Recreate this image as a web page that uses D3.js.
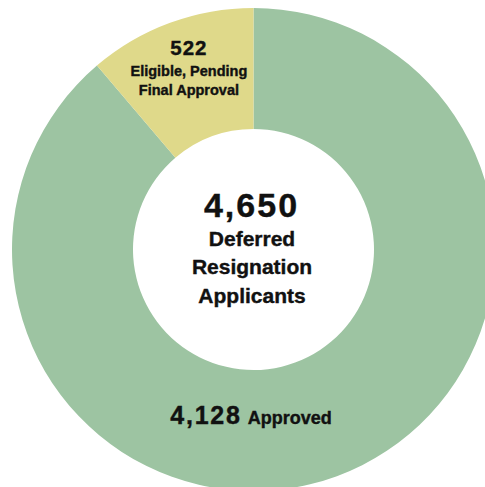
<!doctype html>
<html>
<head>
	<meta charset="UTF-8">
	<title>Deferred Resignation Applicants</title>
	<script src="https://d3js.org/d3.v7.min.js"></script>
	<style>
		body { margin: 0; background: #fff; }
		text { font-family: "Liberation Sans", Arial, sans-serif; font-weight: bold; fill: #111; stroke: #111; stroke-width: 0.4; }
	</style>
</head>
<body>
	<script>
		// data
		var categories = ["Approved", "Eligible, Pending Final Approval"];
		var values = [4128, 522];
		var colors = ["#9dc4a2", "#dfd98a"];
		var centerLines = ["Deferred", "Resignation", "Applicants"];

		var width = 485, height = 487;
		var cx = 253.5, cy = 249.5;
		var outerR = 241.5, innerR = 120.5;

		var svg = d3.select("body")
			.append("svg")
				.attr("width", width)
				.attr("height", height);

		var g = svg.append("g")
			.attr("transform", "translate(" + cx + "," + cy + ")");

		var pie = d3.pie().sort(null).value(function(d) { return d; });
		var arc = d3.arc().innerRadius(innerR).outerRadius(outerR);

		var slices = pie(values);

		g.selectAll("path")
			.data(slices)
			.enter()
			.append("path")
				.attr("d", arc)
				.attr("fill", function(d, i) { return colors[i]; });

		var fmt = d3.format(",");

		// centre label
		var total = d3.sum(values);
		g.append("text")
			.attr("x", -2)
			.attr("y", -33)
			.attr("text-anchor", "middle")
			.attr("font-size", 34)
			.attr("letter-spacing", 2)
			.text(fmt(total));

		g.selectAll(".centerLine")
			.data(centerLines)
			.enter()
			.append("text")
				.attr("class", "centerLine")
				.attr("x", -1.5)
				.attr("y", function(d, i) { return -3.5 + i * 28.3; })
				.attr("text-anchor", "middle")
				.attr("font-size", 21)
				.text(function(d) { return d; });

		// pending slice label, placed along the slice's middle angle
		var pend = slices[1];
		var midA = (pend.startAngle + pend.endAngle) / 2;
		var labR = 187;
		var lx = labR * Math.sin(midA), ly = -labR * Math.cos(midA);
		var pendLabel = g.append("text")
			.attr("text-anchor", "middle")
			.attr("transform", "translate(" + lx + "," + ly + ")");
		pendLabel.append("tspan")
			.attr("x", 0).attr("y", -19)
			.attr("font-size", 20.5)
			.attr("letter-spacing", 1)
			.text(fmt(values[1]));
		pendLabel.append("tspan")
			.attr("x", 0).attr("y", 2)
			.attr("font-size", 14.5)
			.text("Eligible, Pending");
		pendLabel.append("tspan")
			.attr("x", 0).attr("y", 21)
			.attr("font-size", 14.5)
			.text("Final Approval");

		// approved label at the bottom of the ring
		var appLabel = g.append("text")
			.attr("text-anchor", "middle")
			.attr("x", -2.5)
			.attr("y", (innerR + outerR) / 2 + 174.5 - 181);
		appLabel.append("tspan")
			.attr("font-size", 25)
			.attr("letter-spacing", 1.8)
			.text(fmt(values[0]));
		appLabel.append("tspan")
			.attr("font-size", 18)
			.attr("dx", 6)
			.text(categories[0]);
	</script>
</body>
</html>
